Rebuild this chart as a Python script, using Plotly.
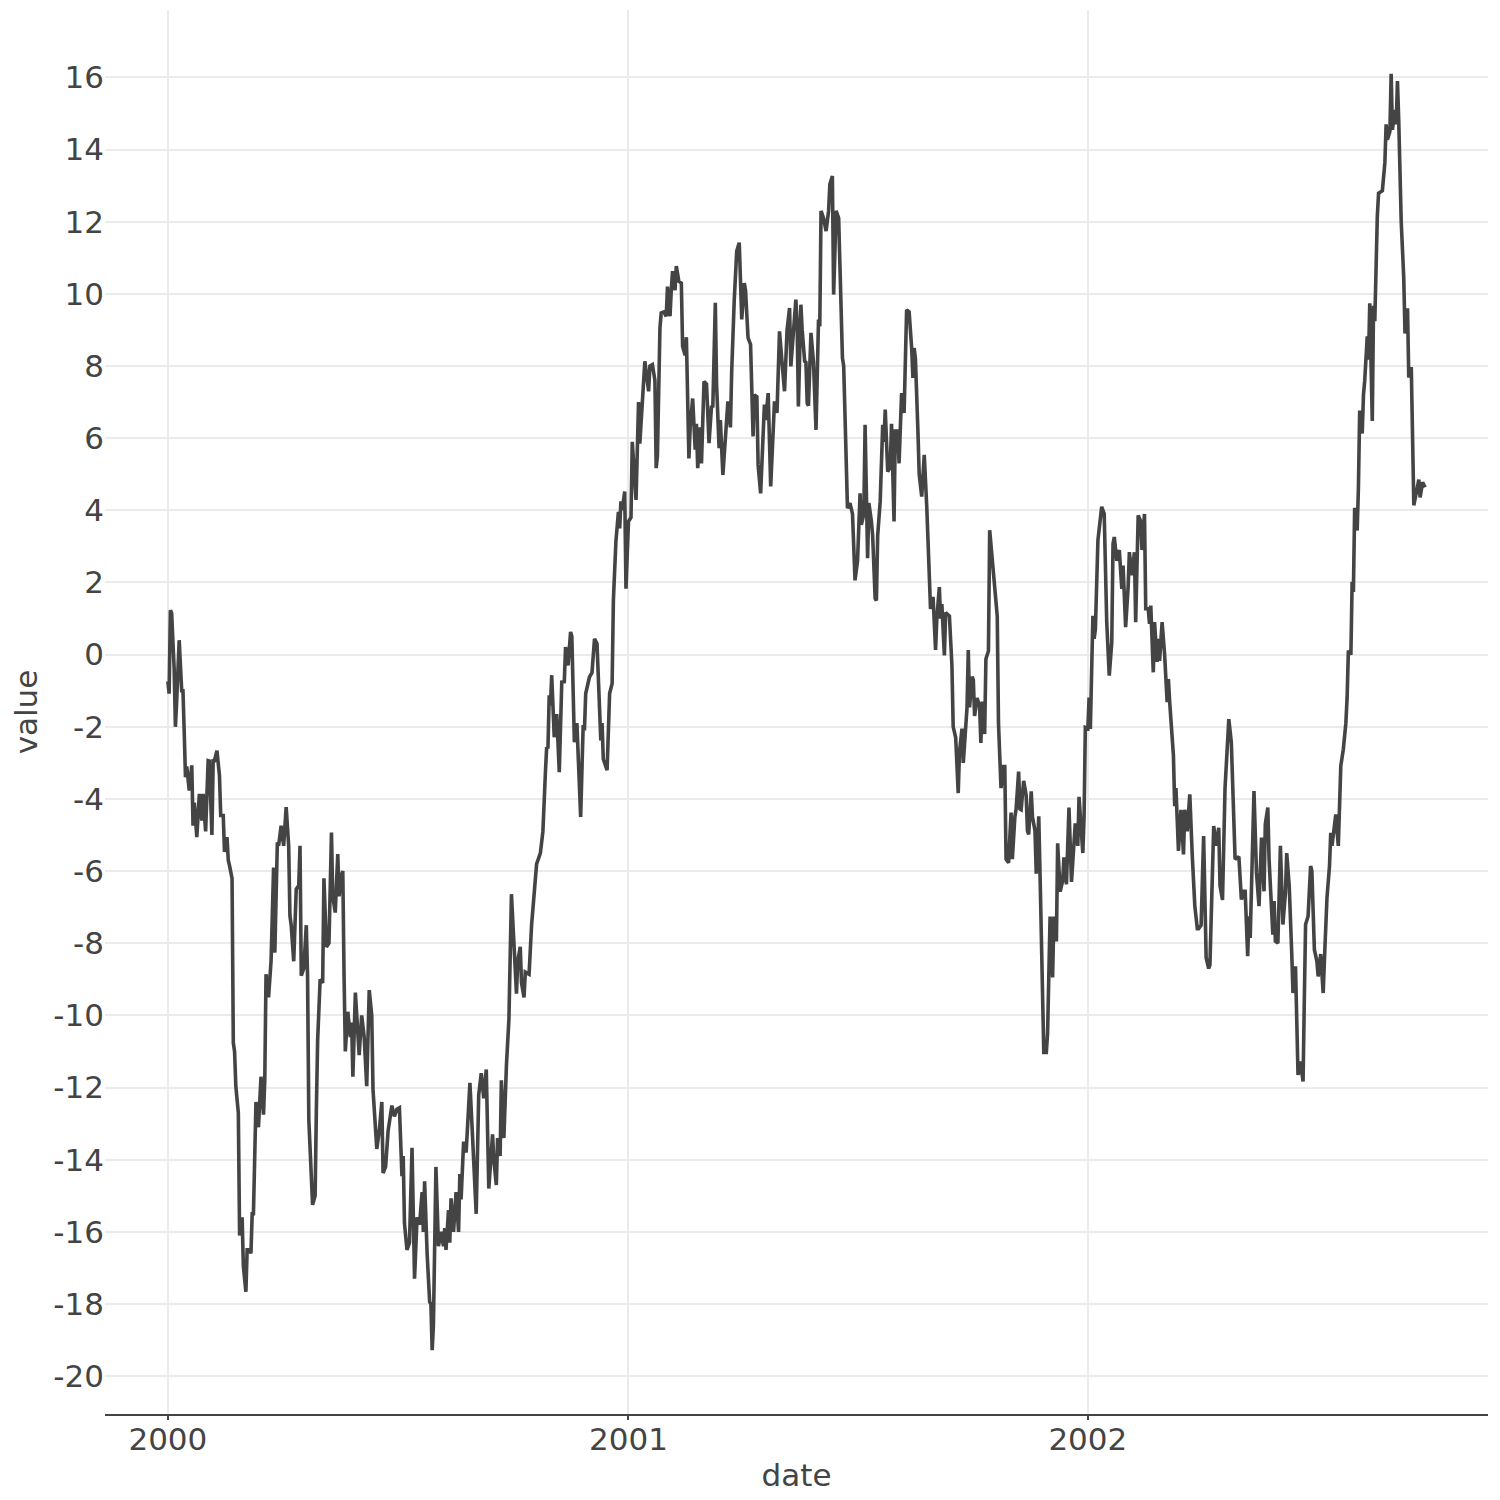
"""
Line chart of a cumulative random walk over 1000 days, starting in 2000.
Values were read off the reference picture, roughly one point every
day or two, so the small wiggles are approximate.
"""
import pandas as pd
import plotly.graph_objects as go

START_DATE = '2000-01-01'

# days since START_DATE for each point
DAY_OFFSETS = [
    0, 1, 2, 3, 5, 6, 7, 9, 11, 12, 13, 14, 15, 17, 19, 20, 21, 23, 25, 27,
    28, 30, 32, 33, 35, 36, 37, 39, 41, 42, 44, 45, 47, 48, 49, 51, 52, 53,
    54, 56, 57, 59, 60, 62, 63, 65, 66, 67, 68, 69, 70, 72, 74, 76, 77, 78,
    80, 82, 84, 85, 87, 88, 90, 92, 94, 96, 97, 98, 100, 102, 104, 105, 106,
    108, 110, 111, 112, 115, 117, 118, 119, 121, 123, 124, 126, 128, 130,
    131, 133, 135, 136, 138, 139, 140, 141, 143, 145, 146, 147, 149, 150,
    152, 154, 156, 158, 160, 162, 163, 166, 168, 170, 171, 173, 175, 178,
    180, 182, 184, 186, 187, 188, 190, 192, 194, 196, 198, 200, 202, 203,
    204, 206, 208, 209, 210, 211, 213, 215, 217, 219, 220, 221, 223, 224,
    225, 227, 229, 231, 232, 233, 235, 237, 240, 242, 245, 247, 249, 251,
    253, 255, 258, 259, 261, 262, 264, 265, 267, 269, 271, 273, 275, 277,
    278, 280, 281, 283, 284, 287, 289, 291, 293, 296, 298, 300, 301, 302,
    303, 304, 305, 307, 309, 311, 313, 315, 316, 318, 320, 321, 323, 325,
    326, 328, 330, 331, 332, 334, 335, 337, 339, 341, 342, 344, 345, 346,
    349, 351, 353, 354, 356, 358, 359, 360, 361, 363, 364, 366, 368, 369,
    372, 374, 375, 378, 379, 382, 383, 385, 387, 388, 389, 391, 392, 394,
    396, 397, 399, 400, 401, 403, 404, 406, 408, 409, 411, 412, 413, 414,
    415, 417, 419, 420, 421, 423, 424, 426, 428, 430, 432, 433, 435, 436,
    438, 439, 441, 443, 445, 447, 448, 450, 452, 454, 456, 458, 459, 461,
    463, 465, 466, 468, 469, 471, 474, 475, 477, 479, 481, 482, 484, 486,
    488, 490, 492, 494, 495, 497, 499, 500, 501, 503, 504, 506, 507, 508,
    509, 511, 513, 515, 517, 518, 519, 521, 523, 525, 526, 528, 529, 531,
    533, 534, 536, 537, 539, 540, 542, 544, 546, 548, 550, 551, 553, 554,
    556, 557, 559, 560, 562, 563, 564, 566, 568, 569, 570, 572, 574, 575,
    577, 578, 580, 581, 583, 585, 587, 589, 591, 592, 593, 594, 596, 597,
    599, 601, 603, 604, 606, 608, 610, 611, 613, 614, 615, 617, 618, 621,
    623, 624, 626, 628, 629, 631, 632, 633, 635, 636, 637, 639, 640, 641,
    643, 645, 646, 647, 649, 650, 652, 653, 655, 657, 659, 660, 661, 662,
    664, 665, 666, 668, 670, 671, 673, 674, 676, 677, 678, 680, 682, 683,
    684, 686, 687, 689, 690, 692, 693, 695, 696, 698, 699, 701, 703, 704,
    706, 707, 709, 711, 712, 714, 716, 718, 720, 721, 723, 724, 727, 728,
    729, 731, 732, 733, 735, 736, 737, 739, 742, 744, 746, 748, 750, 751,
    752, 754, 756, 758, 759, 761, 763, 764, 766, 768, 769, 771, 773, 774,
    776, 777, 779, 780, 781, 783, 784, 786, 787, 788, 790, 792, 794, 795,
    796, 799, 800, 801, 803, 805, 807, 808, 810, 811, 812, 814, 816, 818,
    819, 821, 823, 825, 827, 828, 831, 833, 835, 836, 838, 840, 843, 845,
    846, 848, 851, 853, 855, 856, 858, 859, 860, 863, 865, 867, 869, 871,
    872, 874, 875, 878, 879, 880, 882, 884, 886, 888, 889, 891, 893, 894,
    896, 897, 898, 900, 902, 903, 904, 906, 908, 909, 911, 913, 914, 916,
    918, 919, 921, 923, 924, 925, 927, 928, 930, 931, 932, 934, 936, 937,
    938, 940, 941, 942, 943, 945, 946, 947, 949, 950, 951, 953, 954, 955,
    957, 958, 959, 961, 962, 965, 967, 968, 969, 971, 972, 973, 975, 976,
    977, 978, 979, 980, 982, 983, 985, 986, 988, 989, 990, 992, 994, 995,
    997, 999,
]

VALUES = [
    -0.74, -1.08, 1.23, 1.15, -0.39, -2.0, -1.3, 0.4, -1.0, -1.0, -2.15,
    -3.4, -3.1, -3.77, -3.07, -4.74, -4.1, -5.06, -3.86, -4.6, -3.86, -4.9,
    -2.94, -2.95, -5.0, -2.94, -2.94, -2.66, -3.35, -4.46, -4.46, -5.47,
    -5.06, -5.7, -5.85, -6.2, -10.76, -11.0, -11.96, -12.7, -16.1, -15.6,
    -16.96, -17.66, -16.5, -16.5, -16.6, -15.5, -15.5, -14.0, -12.4, -13.1,
    -11.7, -12.75, -11.8, -8.86, -9.5, -8.5, -5.9, -8.26, -5.2, -5.3, -4.74,
    -5.3, -4.23, -5.3, -7.24, -7.5, -8.5, -6.5, -6.4, -5.3, -8.9, -8.7,
    -7.5, -8.9, -12.9, -15.25, -15.0, -12.6, -10.7, -9.0, -9.1, -6.2, -8.1,
    -8.0, -4.93, -6.7, -7.15, -5.53, -6.7, -6.1, -6.0, -8.9, -11.0, -9.9,
    -10.6, -10.2, -11.7, -9.37, -9.9, -11.1, -10.0, -10.6, -11.96, -9.3,
    -10.0, -12.05, -13.7, -13.2, -12.4, -14.37, -14.2, -13.2, -12.5, -12.8,
    -12.6, -12.56, -14.46, -13.9, -15.76, -16.5, -16.3, -13.67, -17.3,
    -15.6, -15.8, -14.9, -16.0, -14.6, -16.6, -17.94, -18.0, -19.28, -18.6,
    -14.2, -16.4, -16.0, -16.4, -15.9, -16.5, -15.4, -16.3, -15.07, -16.0,
    -14.9, -16.0, -14.4, -15.1, -13.5, -13.8, -11.87, -13.3, -15.5, -12.2,
    -11.6, -12.3, -11.5, -14.8, -13.3, -14.0, -14.7, -13.4, -13.9, -11.8,
    -13.4, -11.4, -10.1, -6.64, -8.07, -9.4, -8.5, -8.1, -9.1, -9.5, -8.8,
    -8.86, -7.5, -6.55, -5.8, -5.5, -4.9, -3.26, -2.56, -2.6, -1.13, -1.4,
    -0.57, -2.29, -1.65, -3.26, -0.76, -0.75, 0.21, -0.3, 0.63, 0.5, -2.43,
    -1.9, -3.0, -4.5, -1.95, -2.1, -1.08, -0.77, -0.62, -0.5, 0.44, 0.3,
    -0.85, -2.38, -1.9, -2.9, -3.2, -1.08, -0.8, 1.5, 3.13, 3.96, 3.5, 4.25,
    4.0, 4.52, 1.83, 3.69, 3.8, 5.9, 4.29, 7.0, 5.85, 7.48, 8.13, 7.3, 8.0,
    8.04, 7.6, 5.17, 5.5, 9.06, 9.47, 9.5, 9.38, 10.2, 9.38, 10.1, 10.63,
    10.1, 10.77, 10.35, 10.3, 8.55, 8.3, 8.8, 6.88, 5.44, 6.3, 7.1, 5.68,
    6.4, 5.17, 6.3, 5.3, 7.57, 7.5, 5.86, 6.9, 6.85, 9.75, 7.5, 5.72, 6.5,
    4.98, 5.85, 7.02, 6.3, 7.85, 9.8, 11.19, 11.42, 9.29, 10.3, 10.1, 8.78,
    8.6, 6.05, 7.2, 7.15, 5.26, 4.47, 6.93, 6.5, 7.25, 4.66, 6.0, 7.02, 6.7,
    8.96, 8.1, 7.3, 9.0, 9.61, 7.99, 9.0, 9.84, 9.2, 6.88, 9.7, 9.0, 8.13,
    8.1, 6.97, 6.9, 8.92, 8.1, 6.23, 9.29, 9.1, 12.3, 12.1, 11.74, 12.3,
    13.04, 13.27, 9.98, 12.3, 12.1, 10.81, 8.22, 8.0, 5.12, 4.06, 4.2, 3.9,
    2.06, 2.6, 4.47, 3.6, 3.9, 6.37, 2.67, 4.2, 3.7, 3.3, 1.56, 1.5, 3.3,
    4.24, 6.37, 5.9, 6.79, 5.07, 5.2, 6.4, 3.69, 6.2, 6.2, 5.3, 7.25, 6.7,
    9.56, 9.5, 8.5, 7.67, 8.5, 8.2, 6.18, 5.0, 4.38, 5.54, 4.1, 3.1, 1.27,
    1.6, 0.13, 1.0, 1.87, 1.0, 1.4, -0.02, 1.17, 1.07, -0.3, -2.0, -2.3,
    -3.84, -2.7, -2.05, -3.0, -2.5, -1.46, 0.13, -1.46, -0.61, -0.7, -1.7,
    -1.2, -1.45, -2.45, -1.3, -2.2, -0.12, 0.1, 3.45, 2.56, 1.77, 1.07,
    -1.9, -2.8, -3.7, -3.1, -3.1, -5.67, -5.77, -4.38, -5.67, -4.5, -4.28,
    -3.24, -4.28, -4.3, -3.5, -3.9, -4.88, -4.98, -3.79, -4.5, -4.88, -6.07,
    -4.48, -6.07, -8.85, -11.03, -11.03, -10.5, -7.26, -8.95, -7.26, -7.95,
    -5.23, -6.57, -6.27, -5.62, -6.37, -4.24, -6.3, -5.28, -4.68, -5.3,
    -3.94, -5.5, -4.5, -2.02, -2.05, -1.19, -2.06, 1.08, 0.44, 0.71, 3.17,
    4.1, 3.9, 0.9, -0.58, 0.34, 3.07, 3.26, 2.6, 2.9, 1.82, 2.47, 0.76,
    1.87, 2.84, 2.2, 2.84, 0.9, 3.86, 3.7, 2.9, 3.9, 1.27, 1.27, 0.85, 1.36,
    -0.49, 0.9, -0.2, 0.44, -0.17, 0.9, 0.0, -1.32, -0.68, -1.3, -2.8, -4.2,
    -3.7, -5.44, -4.3, -5.54, -4.3, -4.9, -4.24, -3.87, -5.6, -6.97, -7.6,
    -7.6, -7.5, -5.03, -8.4, -8.7, -8.6, -4.75, -5.3, -4.8, -6.4, -6.8,
    -3.7, -1.79, -2.43, -3.73, -5.67, -5.6, -6.79, -6.56, -6.56, -8.36,
    -7.25, -7.85, -3.78, -6.05, -6.97, -5.07, -6.56, -4.7, -4.24, -5.68,
    -7.76, -6.83, -7.94, -8.0, -5.3, -7.48, -6.6, -5.5, -6.4, -8.27, -9.38,
    -8.64, -9.9, -11.65, -11.28, -11.83, -9.56, -7.48, -7.25, -5.86, -6.0,
    -8.18, -8.5, -8.92, -8.3, -9.38, -8.45, -6.74, -5.86, -4.94, -5.3,
    -4.75, -4.43, -5.3, -4.43, -3.08, -2.62, -1.9, -1.2, 0.11, 0.0, 2.02,
    1.74, 4.07, 3.44, 4.64, 6.77, 6.13, 7.2, 7.6, 8.82, 8.18, 9.74, 6.48,
    9.67, 9.24, 12.15, 12.79, 12.86, 13.63, 14.7, 14.27, 14.5, 16.1, 14.55,
    15.1, 14.7, 15.9, 14.84, 12.9, 12.0, 10.45, 8.9, 9.6, 7.68, 7.97, 5.77,
    4.14, 4.5, 4.85, 4.36, 4.78, 4.64,
]

Y_TICKS = list(range(-20, 17, 2))
Y_TICK_LABELS = [str(v) for v in Y_TICKS]  # plain hyphen, not a minus sign
X_TICKS = ['2000-01-01', '2001-01-01', '2002-01-01']
X_TICK_LABELS = ['2000', '2001', '2002']


def build_series():
    """
    Turns the day offsets and values into a pandas series indexed by date.
    """
    dates = pd.Timestamp(START_DATE) + pd.to_timedelta(DAY_OFFSETS, unit='D')
    return pd.Series(VALUES, index=dates)


def make_figure(ts):
    """
    Draws the series as a single dark grey line on a white background
    with light grey gridlines.
    """
    # 5% padding on each side, same as the reference
    span = ts.index[-1] - ts.index[0]
    x_range = [ts.index[0] - span * 0.05, ts.index[-1] + span * 0.05]
    lo, hi = ts.min(), ts.max()
    pad = (hi - lo) * 0.05
    y_range = [lo - pad, hi + pad]

    fig = go.Figure()
    fig.add_trace(go.Scatter(x=ts.index, y=ts.values, mode='lines',
                             line=dict(color='#444444', width=3.6),
                             showlegend=False))

    # the page body adds an 8px margin, so the figure is a bit smaller
    # than the window and the plot margins are shifted to compensate
    axis_font = dict(family='DejaVu Sans', size=31, color='#444444')
    fig.update_layout(
        width=1492, height=1492,
        margin=dict(l=97, r=12, t=2, b=86),
        paper_bgcolor='white',
        plot_bgcolor='white',
        font=axis_font,
    )
    fig.update_xaxes(
        range=x_range,
        tickvals=X_TICKS, ticktext=X_TICK_LABELS,
        tickfont=axis_font,
        ticklabelstandoff=-7,
        title=dict(text='date', font=axis_font, standoff=8),
        automargin=False,
        showgrid=True, gridcolor='#ebebeb', gridwidth=2,
        showline=True, linecolor='#444444', linewidth=2,
        ticks='outside', ticklen=4, tickcolor='#444444', tickwidth=2,
        zeroline=False,
    )
    fig.update_yaxes(
        range=y_range,
        tickvals=Y_TICKS, ticktext=Y_TICK_LABELS,
        tickfont=axis_font,
        title=dict(text='value', font=axis_font, standoff=22),
        automargin=False,
        showgrid=True, gridcolor='#ebebeb', gridwidth=2,
        showline=False, ticks='', zeroline=False,
    )
    return fig


def main():
    ts = build_series()
    fig = make_figure(ts)
    fig.write_html('out.html')


if __name__ == '__main__':
    main()
